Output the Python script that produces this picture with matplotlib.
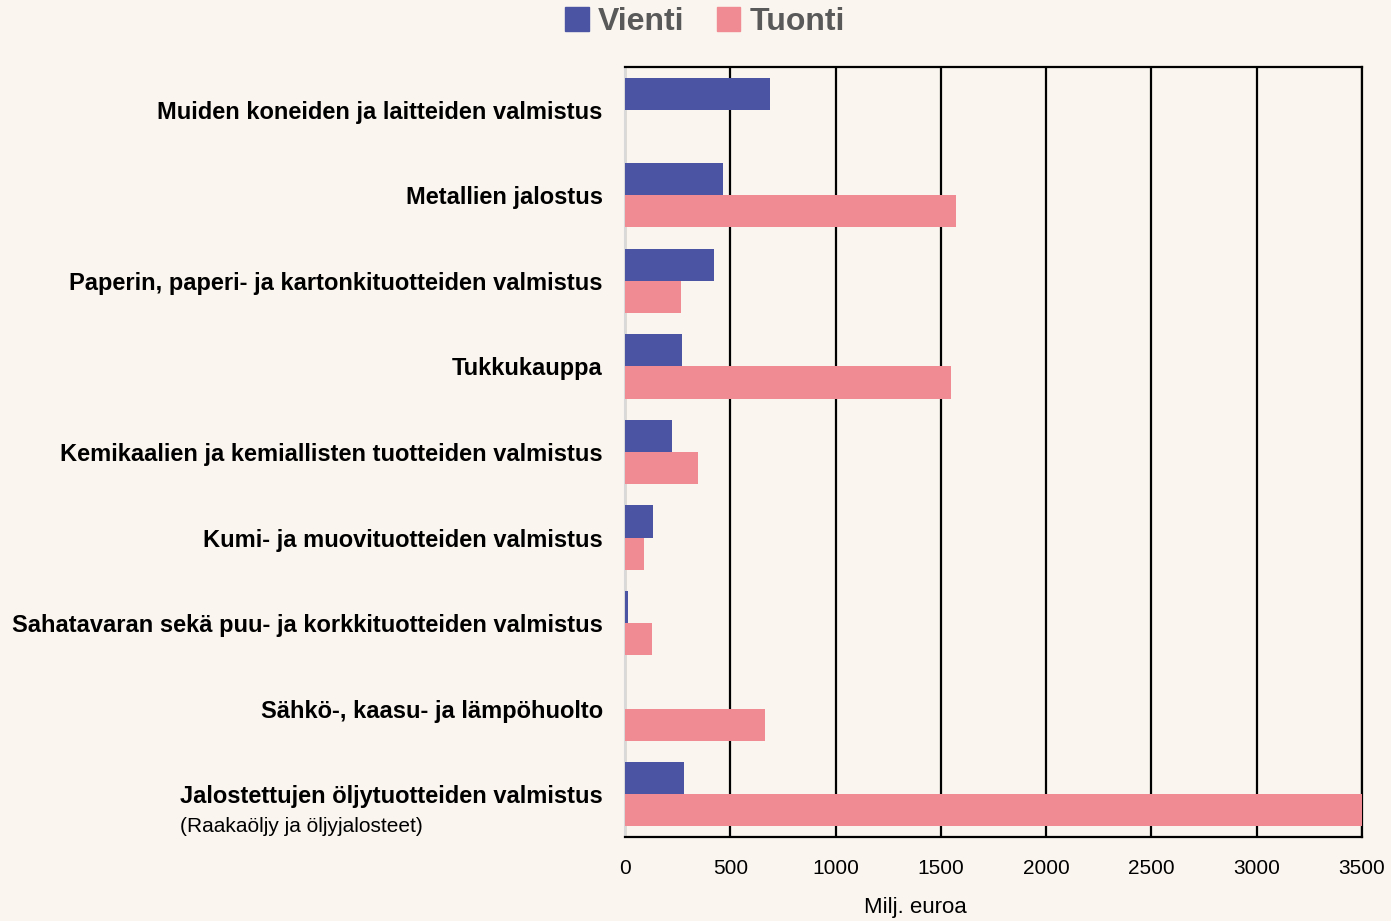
import numpy as np
import matplotlib.pyplot as plt
from matplotlib.patches import Patch

plt.rcParams['font.family'] = ['Liberation Sans', 'DejaVu Sans']

categories = [
    "Muiden koneiden ja laitteiden valmistus",
    "Metallien jalostus",
    "Paperin, paperi- ja kartonkituotteiden valmistus",
    "Tukkukauppa",
    "Kemikaalien ja kemiallisten tuotteiden valmistus",
    "Kumi- ja muovituotteiden valmistus",
    "Sahatavaran sekä puu- ja korkkituotteiden valmistus",
    "Sähkö-, kaasu- ja lämpöhuolto",
    "Jalostettujen öljytuotteiden valmistus",
]
vienti = [690, 465, 423, 271, 223, 133, 14, 0, 280]
tuonti = [0, 1572, 266, 1548, 347, 90, 128, 665, 3500]
xticks = [0, 500, 1000, 1500, 2000, 2500, 3000, 3500]

bg = '#faf5ef'
c_vienti = '#4b54a3'
c_tuonti = '#f18b93'

fig = plt.figure(figsize=(13.91, 9.21), dpi=100, facecolor=bg)
ax = fig.add_axes([625/1391, 1-837/921, 737/1391, 770/921], facecolor=bg)

y = np.arange(len(categories))
h = 0.375
ax.barh(y - h/2, vienti, height=h, color=c_vienti, zorder=3)
ax.barh(y + h/2, tuonti, height=h, color=c_tuonti, zorder=3)

ax.set_ylim(len(categories) - 0.5, -0.5)
ax.set_xlim(0, 3500)
ax.set_xticks(xticks)
ax.set_xticklabels([str(v) for v in xticks], fontsize=15)
ax.set_yticks(y)
ax.set_yticklabels(categories, fontsize=17, fontweight='bold')
ax.tick_params(axis='y', length=0, pad=16)
ax.tick_params(axis='x', length=0, pad=16)
ax.xaxis.grid(True, color='black', linewidth=1.6, zorder=1)

for s in ['top', 'right', 'bottom']:
    ax.spines[s].set_color('black')
    ax.spines[s].set_linewidth(1.6)
ax.spines['left'].set_color('#d9d9d9')
ax.spines['left'].set_linewidth(1.5)

fig.text(180/1391, 1-826/921, "(Raakaöljy ja öljyjalosteet)", fontsize=15,
         ha='left', va='center')
fig.text(915/1391, 1-907/921, "Milj. euroa", fontsize=16, ha='center', va='center')

handles = [Patch(color=c_vienti, label='Vienti'), Patch(color=c_tuonti, label='Tuonti')]
leg = fig.legend(handles=handles, loc='center', bbox_to_anchor=(705/1391, 1-22/921),
                 ncol=2, frameon=False, prop={'size': 23, 'weight': 'bold'},
                 handlelength=0.75, handleheight=0.75, handletextpad=0.3, columnspacing=1.0)
for t in leg.get_texts():
    t.set_color('#595959')

fig.savefig('out.png', dpi=100, facecolor=bg)
